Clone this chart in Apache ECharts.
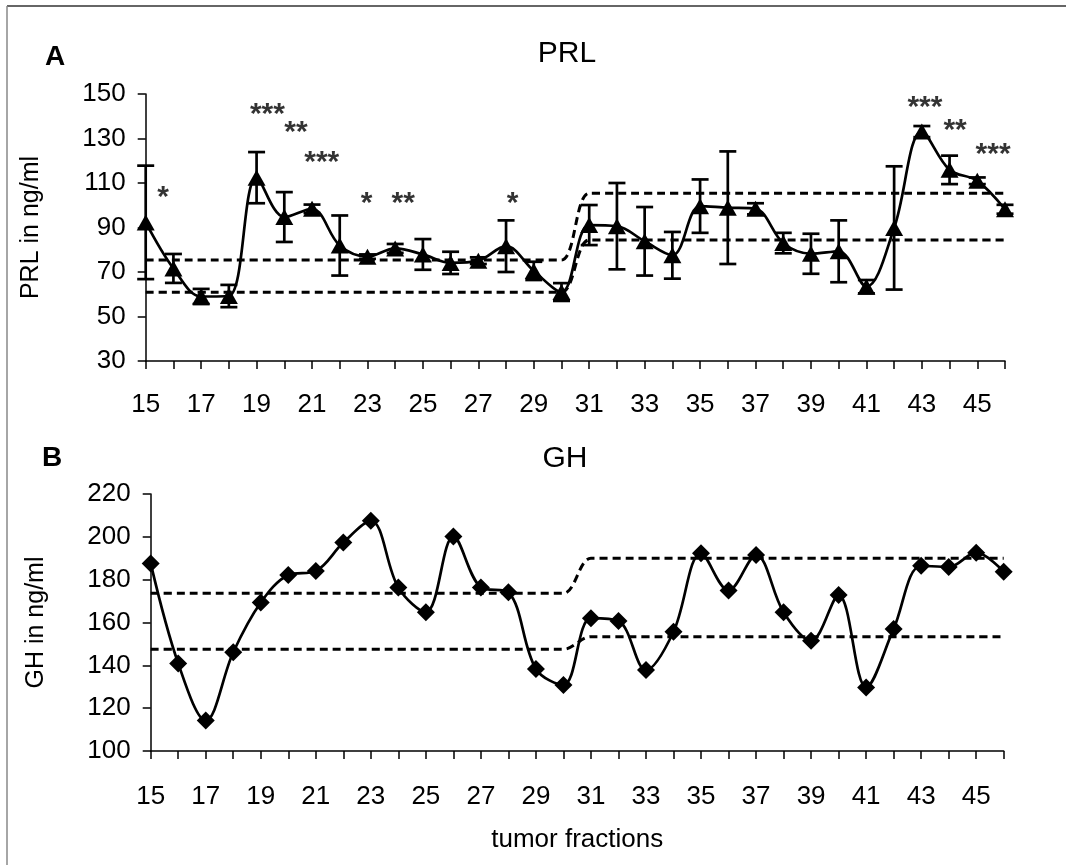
<!DOCTYPE html>
<html><head><meta charset="utf-8">
<script src="https://cdn.jsdelivr.net/npm/echarts@6/dist/echarts.min.js"></script>
<style>html,body{margin:0;padding:0;background:#fff}#c{width:1066px;height:865px}</style>
</head><body><div id="c"></div>
<script>
const fractions = ['15','16','17','18','19','20','21','22','23','24','25','26','27','28','29','30','31','32','33','34','35','36','37','38','39','40','41','42','43','44','45','46'];
const prlMean = [92.3,71.6,59.0,59.2,112.4,94.7,98.4,81.9,76.9,80.6,77.9,74.1,75.1,81.6,70.5,61.0,91.1,90.6,83.8,77.5,99.6,98.9,98.4,83.0,78.2,79.3,63.4,89.8,133.1,115.9,111.0,98.2];
const prlErr = [25.5,6.5,3.4,5.0,11.5,11.2,1.9,13.5,1.0,2.0,6.9,5.0,1.5,11.6,4.1,4.0,9.0,19.4,15.4,10.5,12.0,25.3,2.5,4.6,9.0,13.9,3.0,27.7,2.5,6.4,1.5,2.0];
const prlUpper = [75.4,75.4,75.4,75.4,75.4,75.4,75.4,75.4,75.4,75.4,75.4,75.4,75.4,75.4,75.4,75.4,105.4,105.4,105.4,105.4,105.4,105.4,105.4,105.4,105.4,105.4,105.4,105.4,105.4,105.4,105.4,105.4];
const prlLower = [60.9,60.9,60.9,60.9,60.9,60.9,60.9,60.9,60.9,60.9,60.9,60.9,60.9,60.9,60.9,60.9,84.4,84.4,84.4,84.4,84.4,84.4,84.4,84.4,84.4,84.4,84.4,84.4,84.4,84.4,84.4,84.4];
const ghValues = [187.6,140.9,114.2,146.1,169.3,182.2,184.0,197.3,207.5,176.3,164.8,200.1,176.4,174.1,138.3,130.8,162.0,160.7,137.8,155.7,192.3,174.9,191.5,164.8,151.5,172.8,129.7,157.0,186.5,185.9,192.6,183.7];
const ghUpper = [173.6,173.6,173.6,173.6,173.6,173.6,173.6,173.6,173.6,173.6,173.6,173.6,173.6,173.6,173.6,173.6,190.0,190.0,190.0,190.0,190.0,190.0,190.0,190.0,190.0,190.0,190.0,190.0,190.0,190.0,190.0,190.0];
const ghLower = [147.5,147.5,147.5,147.5,147.5,147.5,147.5,147.5,147.5,147.5,147.5,147.5,147.5,147.5,147.5,147.5,153.4,153.4,153.4,153.4,153.4,153.4,153.4,153.4,153.4,153.4,153.4,153.4,153.4,153.4,153.4,153.4];
const prlAxis = {min: 30, max: 150, interval: 20};
const ghAxis = {min: 100, max: 220, interval: 20};
const sigFraction = [15.63, 19.39, 20.42, 21.35, 22.97, 24.29, 28.24, 43.11, 44.20, 45.57];
const sigLevel = [106.9, 144.3, 136.1, 122.6, 104.2, 104.2, 104.2, 147.3, 137.3, 126.3];
const sigText = ['*', '***', '**', '***', '*', '**', '*', '***', '**', '***'];

const FONT = "'Liberation Sans', Arial, sans-serif";
const chart = echarts.init(document.getElementById('c'), null, {renderer: 'canvas'});

const errData = prlMean.map((m, i) => [i, m - prlErr[i], m + prlErr[i]]);
const sigData = sigFraction.map((x, i) => ({value: [x, sigLevel[i]], name: sigText[i]}));

function renderErr(params, api) {
  const i = api.value(0);
  const lo = api.coord([i, api.value(1)]);
  const hi = api.coord([i, api.value(2)]);
  const w = 8.5;
  const style = {stroke: '#000', lineWidth: 2.7, fill: null};
  return {type: 'group', children: [
    {type: 'line', shape: {x1: hi[0], y1: hi[1], x2: lo[0], y2: lo[1]}, style},
    {type: 'line', shape: {x1: hi[0] - w, y1: hi[1], x2: hi[0] + w, y2: hi[1]}, style},
    {type: 'line', shape: {x1: lo[0] - w, y1: lo[1], x2: lo[0] + w, y2: lo[1]}, style}
  ]};
}

const axisLine = {show: true, lineStyle: {color: '#000', width: 1.5}};
const axisTick = {show: true, length: 8, lineStyle: {color: '#000', width: 1.5}};
const labelStyle = {color: '#000', fontSize: 26, fontFamily: FONT};
const dash = {color: '#000', width: 3, type: [8, 5]};

function catAxis(grid, name, margin) {
  return {
    type: 'category', gridIndex: grid, data: fractions, boundaryGap: false,
    axisLine, axisTick: Object.assign({interval: 0}, axisTick),
    axisLabel: Object.assign({interval: 1, margin: margin}, labelStyle),
    splitLine: {show: false},
    name: name || '', nameLocation: 'middle', nameGap: 76,
    nameTextStyle: {color: '#000', fontSize: 26, fontFamily: FONT}
  };
}
function valAxis(grid, rng, name) {
  return {
    type: 'value', gridIndex: grid, min: rng.min, max: rng.max, interval: rng.interval,
    axisLine, axisTick,
    axisLabel: Object.assign({margin: 20}, labelStyle),
    splitLine: {show: false},
    name, nameLocation: 'middle', nameGap: 102,
    nameTextStyle: {color: '#000', fontSize: 25, fontFamily: FONT}
  };
}

const option = {
  animation: false,
  backgroundColor: '#fff',
  grid: [
    {left: 145.7, right: 61, top: 94, height: 267},
    {left: 150.7, right: 62.3, top: 494, height: 257}
  ],
  xAxis: [
    catAxis(0, '', 31),
    catAxis(1, 'tumor fractions', 33),
    {type: 'value', gridIndex: 0, min: 15, max: 46, show: false}
  ],
  yAxis: [
    valAxis(0, prlAxis, 'PRL in ng/ml'),
    valAxis(1, ghAxis, 'GH in ng/ml')
  ],
  graphic: [
    {type: 'line', shape: {x1: 7, y1: 6, x2: 1066, y2: 6}, style: {stroke: '#333', lineWidth: 1.5}},
    {type: 'line', shape: {x1: 7, y1: 6, x2: 7, y2: 865}, style: {stroke: '#888', lineWidth: 1.5}},
    {type: 'text', x: 55, y: 57, style: {text: 'A', font: 'bold 28px ' + FONT, fill: '#000', align: 'center', verticalAlign: 'middle'}},
    {type: 'text', x: 567, y: 54, style: {text: 'PRL', font: '30px ' + FONT, fill: '#000', align: 'center', verticalAlign: 'middle'}},
    {type: 'text', x: 52, y: 458, style: {text: 'B', font: 'bold 28px ' + FONT, fill: '#000', align: 'center', verticalAlign: 'middle'}},
    {type: 'text', x: 565, y: 459, style: {text: 'GH', font: '30px ' + FONT, fill: '#000', align: 'center', verticalAlign: 'middle'}}
  ],
  series: [
    {type: 'line', xAxisIndex: 0, yAxisIndex: 0, data: prlUpper, smooth: 0.35, symbol: 'none', lineStyle: dash, z: 2},
    {type: 'line', xAxisIndex: 0, yAxisIndex: 0, data: prlLower, smooth: 0.35, symbol: 'none', lineStyle: dash, z: 2},
    {type: 'custom', xAxisIndex: 0, yAxisIndex: 0, data: errData, renderItem: renderErr, z: 3},
    {type: 'line', xAxisIndex: 0, yAxisIndex: 0, data: prlMean, smooth: 0.35, symbol: 'triangle', symbolSize: [18, 16],
     showAllSymbol: true, lineStyle: {color: '#000', width: 2.7}, itemStyle: {color: '#000'}, z: 4},
    {type: 'scatter', xAxisIndex: 2, yAxisIndex: 0, data: sigData, symbolSize: 0,
     label: {show: true, position: 'inside', formatter: '{b}', color: '#000', fontSize: 30, fontWeight: 'bold', fontFamily: FONT, offset: [0, 8]}, z: 5},
    {type: 'line', xAxisIndex: 1, yAxisIndex: 1, data: ghUpper, smooth: 0.35, symbol: 'none', lineStyle: dash, z: 2},
    {type: 'line', xAxisIndex: 1, yAxisIndex: 1, data: ghLower, smooth: 0.35, symbol: 'none', lineStyle: dash, z: 2},
    {type: 'line', xAxisIndex: 1, yAxisIndex: 1, data: ghValues, smooth: 0.35, symbol: 'diamond', symbolSize: 18,
     showAllSymbol: true, lineStyle: {color: '#000', width: 2.7}, itemStyle: {color: '#000'}, z: 4}
  ]
};
chart.setOption(option);
</script>
</body></html>
